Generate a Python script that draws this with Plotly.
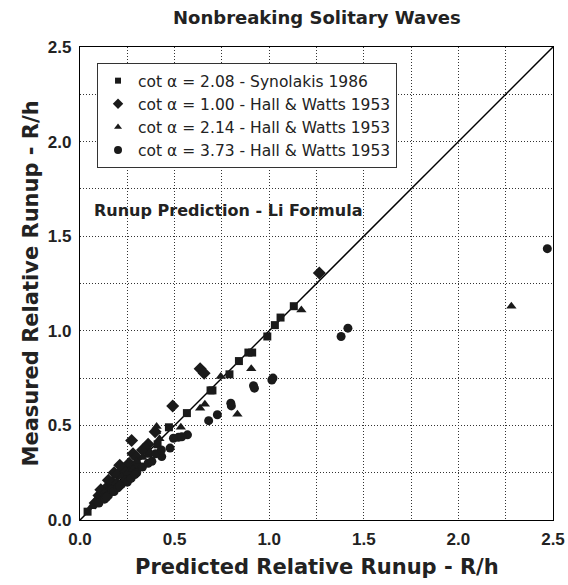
import plotly.graph_objects as go

# Synolakis 1986, cot alpha = 2.08 (squares)
syn_x = [0.04, 0.10, 0.13, 0.16, 0.20, 0.25, 0.30, 0.36, 0.41, 0.47, 0.565, 0.69, 0.70, 0.79, 0.84, 0.89, 0.91, 0.99, 1.03, 1.06, 1.13]
syn_y = [0.044, 0.10, 0.13, 0.15, 0.19, 0.24, 0.29, 0.35, 0.40, 0.49, 0.565, 0.685, 0.685, 0.77, 0.84, 0.885, 0.885, 0.97, 1.03, 1.07, 1.13]

# Hall & Watts 1953, cot alpha = 1.00 (diamonds)
hw1_x = [1.265, 0.635, 0.656, 0.49, 0.273, 0.397, 0.08, 0.10, 0.12, 0.14, 0.15, 0.17, 0.18, 0.20, 0.21, 0.23, 0.26, 0.28, 0.30, 0.33, 0.36, 0.11, 0.24]
hw1_y = [1.305, 0.80, 0.776, 0.603, 0.42, 0.467, 0.09, 0.13, 0.14, 0.17, 0.21, 0.20, 0.25, 0.24, 0.29, 0.27, 0.30, 0.35, 0.33, 0.37, 0.40, 0.16, 0.25]

# Hall & Watts 1953, cot alpha = 2.14 (triangles)
hw2_x = [2.28, 1.17, 0.905, 0.744, 0.635, 0.66, 0.832, 0.405, 0.533, 0.402, 0.06, 0.10, 0.13, 0.16, 0.19, 0.22, 0.26, 0.30, 0.33, 0.37, 0.35, 0.42, 0.08, 0.12, 0.28]
hw2_y = [1.13, 1.11, 0.80, 0.758, 0.59, 0.612, 0.559, 0.494, 0.49, 0.467, 0.07, 0.11, 0.15, 0.17, 0.20, 0.23, 0.26, 0.31, 0.33, 0.36, 0.39, 0.43, 0.10, 0.12, 0.27]

# Hall & Watts 1953, cot alpha = 3.73 (circles)
hw3_x = [2.47, 1.38, 1.416, 1.014, 1.02, 0.917, 0.922, 0.797, 0.80, 0.68, 0.726, 0.52, 0.568, 0.494, 0.538, 0.476, 0.432,
         0.10, 0.13, 0.15, 0.17, 0.18, 0.20, 0.22, 0.24, 0.25, 0.27, 0.30, 0.33, 0.36, 0.38, 0.40, 0.43, 0.14, 0.21, 0.29]
hw3_y = [1.434, 0.97, 1.014, 0.74, 0.75, 0.71, 0.697, 0.617, 0.603, 0.525, 0.556, 0.437, 0.45, 0.432, 0.44, 0.38, 0.335,
         0.09, 0.11, 0.13, 0.16, 0.15, 0.17, 0.19, 0.21, 0.20, 0.22, 0.25, 0.28, 0.30, 0.31, 0.35, 0.37, 0.12, 0.18, 0.24]

line_x = [0.0, 2.5]
line_y = [0.0, 2.5]

tick_vals = [0, 0.5, 1.0, 1.5, 2.0, 2.5]
tick_text = ["0.0", "0.5", "1.0", "1.5", "2.0", "2.5"]

series = [
    ("cot \u03b1 = 2.08 - Synolakis 1986", syn_x, syn_y, "square", 8, 6),
    ("cot \u03b1 = 1.00 - Hall & Watts 1953", hw1_x, hw1_y, "diamond", 10, 8),
    ("cot \u03b1 = 2.14 - Hall & Watts 1953", hw2_x, hw2_y, "triangle-up", 9, 7),
    ("cot \u03b1 = 3.73 - Hall & Watts 1953", hw3_x, hw3_y, "circle", 9, 8),
]

ink = "#1a1a1a"
fig = go.Figure()
fig.add_trace(go.Scatter(x=line_x, y=line_y, mode="lines", line=dict(color="black", width=1.5),
                         showlegend=False, hoverinfo="skip"))
for name, xs, ys, sym, sz, lsz in series:
    fig.add_trace(go.Scatter(x=xs, y=ys, mode="markers", name=name, showlegend=False,
                             marker=dict(symbol=sym, size=sz, color=ink, line=dict(width=0))))
# legend entries with smaller legend markers
for name, xs, ys, sym, sz, lsz in series:
    fig.add_trace(go.Scatter(x=[None], y=[None], mode="markers", name=name, showlegend=True,
                             marker=dict(symbol=sym, size=lsz, color=ink, line=dict(width=0))))

bold_font = "DejaVu Sans, sans-serif"
tick_font = "Liberation Sans, Arial, sans-serif"
grid_style = dict(showgrid=True, gridcolor="#333333", griddash="1px,2px", gridwidth=1)
axis_common = dict(
    range=[0, 2.5], tickvals=tick_vals, ticktext=tick_text,
    **grid_style,
    minor=dict(dtick=0.25, tick0=0, **grid_style),
    showline=True, linecolor="black", linewidth=1.3, mirror=True, zeroline=False,
    ticks="", automargin=False,
    tickfont=dict(family=tick_font, size=17, color="#222222", weight="bold"),
)

fig.update_layout(
    width=568, height=585,
    margin=dict(l=80, r=15, t=47, b=65),
    paper_bgcolor="white", plot_bgcolor="white",
    xaxis=dict(**axis_common, ticklabelstandoff=3),
    yaxis=dict(**axis_common, ticklabelstandoff=4),
    legend=dict(x=0.036, y=0.966, xanchor="left", yanchor="top", bgcolor="white",
                bordercolor="#333333", borderwidth=1,
                font=dict(family=bold_font, size=15.5, color="#222222"), tracegroupgap=0,
                itemsizing="trace"),
    showlegend=True,
)

# chart title
fig.add_annotation(x=0.5, y=(520 - 18) / 473, xref="paper", yref="paper", text="<b>Nonbreaking Solitary Waves</b>",
                   showarrow=False, xanchor="center", yanchor="middle",
                   font=dict(family=bold_font, size=18, color="#222222"))
# axis titles
fig.add_annotation(x=0.5, y=(520 - 567) / 473, xref="paper", yref="paper", text="<b>Predicted Relative Runup - R/h</b>",
                   showarrow=False, xanchor="center", yanchor="middle",
                   font=dict(family=bold_font, size=21, color="#222222"))
fig.add_annotation(x=(30 - 80) / 473, y=0.5, xref="paper", yref="paper", text="<b>Measured Relative Runup - R/h</b>",
                   showarrow=False, xanchor="center", yanchor="middle", textangle=-90,
                   font=dict(family=bold_font, size=21, color="#222222"))
# inner label
fig.add_annotation(x=0.065, y=1.635, xref="x", yref="y", text="<b>Runup Prediction - Li Formula</b>",
                   showarrow=False, xanchor="left", yanchor="middle",
                   font=dict(family=bold_font, size=16, color="#222222"))

fig.write_html("out.html", config={"displayModeBar": False},
               post_script="document.body.style.margin='0';document.body.style.overflow='hidden';")
